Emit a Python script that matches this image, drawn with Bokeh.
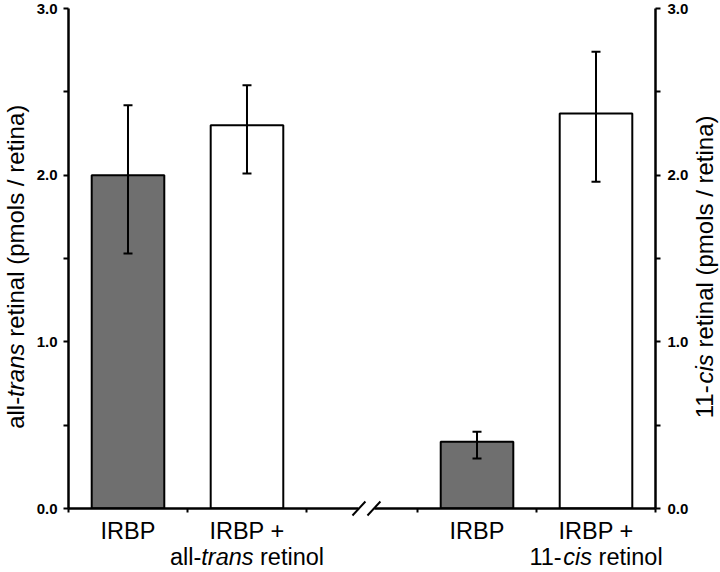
import math
from bokeh.plotting import figure
from bokeh.models import Range1d, LinearAxis, FixedTicker, ColumnDataSource, Whisker, TeeHead
from bokeh.core.properties import value
from bokeh.embed import file_html
from bokeh.resources import INLINE

# ---------------- data ----------------
label_line1 = ["IRBP", "IRBP +", "IRBP", "IRBP +"]
label_line2 = [[], [("all-", False), ("trans", True), (" retinol", False)],
               [], [("11-", False), ("cis", True), (" retinol", False)]]
group_of_bar = [0, 0, 1, 1]
slot_in_group = [0, 1, 0, 1]
values = [2.00, 2.30, 0.40, 2.37]
err_upper = [2.42, 2.54, 0.46, 2.74]
err_lower = [1.53, 2.01, 0.30, 1.96]
bar_colors = ["#6f6f6f", "#ffffff", "#6f6f6f", "#ffffff"]
y_ticks = [0.0, 1.0, 2.0, 3.0]
y_minor = [0.5, 1.5, 2.5]
y_tick_labels = {0: "0.0", 1: "1.0", 2: "2.0", 3: "3.0"}
left_title = [("all-", False), ("trans", True), (" retinal (pmols / retina)", False)]
right_title = [("11-", False), ("cis", True), (" retinal (pmols / retina)", False)]

# ---------------- layout helpers ----------------
FONT = "Liberation Sans"
ARIAL = {' ': 278, 'a': 556, 'l': 222, '-': 333, 't': 278, 'r': 333, 'n': 556, 's': 500,
         'e': 556, 'i': 222, 'o': 556, '(': 333, ')': 333, 'p': 556, 'm': 833, '/': 278,
         '1': 556, 'c': 500, 'I': 278, 'R': 722, 'B': 667, 'P': 667, '+': 584}


def tw(s, size):
    return sum(ARIAL[c] for c in s) * size / 1000.0


def layout_pieces(pieces, size):
    out, off = [], 0.0
    for txt, ital in pieces:
        lead = len(txt) - len(txt.lstrip(" "))
        start = off + tw(txt[:lead], size)
        out.append((txt.strip(" "), ital, start))
        off += tw(txt, size)
    return out, off


group_start = [0.0, 2.933]
x_end = group_start[1] + 2
xpos = [group_start[g] + s + 0.5 for g, s in zip(group_of_bar, slot_in_group)]
x_ticks = [group_start[0], group_start[0] + 1, group_start[0] + 2,
           group_start[1], group_start[1] + 1, group_start[1] + 2]

W_FIG, H_FIG = 720, 572
ML, MR, MT, MB = 68, 65, 8, 64
p = figure(width=W_FIG, height=H_FIG, x_range=Range1d(0, x_end), y_range=Range1d(0, 3),
           x_axis_type=None, y_axis_type=None, output_backend="svg", toolbar_location=None,
           min_border_left=ML, min_border_right=MR, min_border_top=MT, min_border_bottom=MB)
p.outline_line_color = None
p.background_fill_color = "white"


def style_axis(ax):
    ax.axis_line_width = 2.5
    ax.axis_line_color = "black"
    ax.major_tick_line_width = 2
    ax.minor_tick_line_width = 2
    ax.major_tick_in = 0
    ax.minor_tick_in = 0
    ax.major_tick_out = 5
    ax.minor_tick_out = 5
    ax.major_label_text_font = FONT
    ax.major_label_text_font_style = "bold"
    ax.major_label_text_font_size = "15px"
    ax.major_label_text_color = "black"


yl = LinearAxis(ticker=FixedTicker(ticks=y_ticks, minor_ticks=y_minor),
                major_label_overrides=y_tick_labels, major_label_standoff=6)
style_axis(yl)
p.add_layout(yl, "left")
yr = LinearAxis(ticker=FixedTicker(ticks=y_ticks, minor_ticks=y_minor),
                major_label_overrides=y_tick_labels, major_label_standoff=7)
style_axis(yr)
p.add_layout(yr, "right")
xa = LinearAxis(ticker=FixedTicker(ticks=x_ticks, minor_ticks=[]))
style_axis(xa)
xa.major_tick_out = 4
xa.major_label_text_font_size = "0px"
xa.major_label_text_alpha = 0
p.add_layout(xa, "below")

src = ColumnDataSource(dict(x=xpos, top=values, color=bar_colors,
                            upper=err_upper, lower=err_lower))
p.vbar(x="x", top="top", width=0.61, source=src, fill_color="color",
       line_color="black", line_width=2)
wh = Whisker(base="x", upper="upper", lower="lower", source=src,
             line_color="black", line_width=2,
             upper_head=TeeHead(size=9, line_width=2, line_color="black"),
             lower_head=TeeHead(size=9, line_width=2, line_color="black"),
             level="overlay")
p.add_layout(wh)

# axis break marks
gap = group_start[1] - (group_start[0] + 2)
brk = group_start[0] + 2 + 0.54 * gap
p.rect(x=[brk], y=[0], width=16, height=8, width_units="screen", height_units="screen",
       fill_color="white", line_color=None, level="overlay")
px_per_unit = (W_FIG - ML - MR) / x_end
d = 7.5 / px_per_unit
p.scatter(x=[brk - d, brk + d], y=[0, 0], marker="dash", size=19, angle=0.82,
          line_color="black", line_width=2, level="overlay")

# category labels
CAT = 23.5
p.text(x=xpos, y=[0] * 4, text=label_line1, y_offset=22, text_align="center",
       text_baseline="middle", text_font=value(FONT), text_font_size=f"{CAT}px",
       text_color="black", level="overlay")
rows = {False: dict(x=[], y=[], text=[], xo=[]), True: dict(x=[], y=[], text=[], xo=[])}
for xc, pieces in zip(xpos, label_line2):
    if not pieces:
        continue
    lay, W = layout_pieces(pieces, CAT)
    for txt, ital, off in lay:
        r = rows[ital]
        r["x"].append(xc); r["y"].append(0); r["text"].append(txt); r["xo"].append(-W / 2 + off)
for ital, r in rows.items():
    p.text(x="x", y="y", text="text", x_offset="xo", source=ColumnDataSource(r), y_offset=48,
           text_align="left", text_baseline="middle", text_font=value(FONT),
           text_font_size=f"{CAT}px", text_font_style="italic" if ital else "normal",
           text_color="black", level="overlay")

# rotated axis titles
TIT = 24
for pieces, xa_, xoff in [(left_title, 0, -53), (right_title, x_end, 49)]:
    lay, W = layout_pieces(pieces, TIT)
    for txt, ital, off in lay:
        p.text(x=[xa_], y=[1.45], text=[txt], x_offset=xoff, y_offset=W / 2 - off,
               angle=math.pi / 2, text_align="left", text_baseline="middle",
               text_font=value(FONT), text_font_size=f"{TIT}px",
               text_font_style="italic" if ital else "normal", text_color="black",
               level="overlay")

open("out.html", "w").write(file_html(p, INLINE))
